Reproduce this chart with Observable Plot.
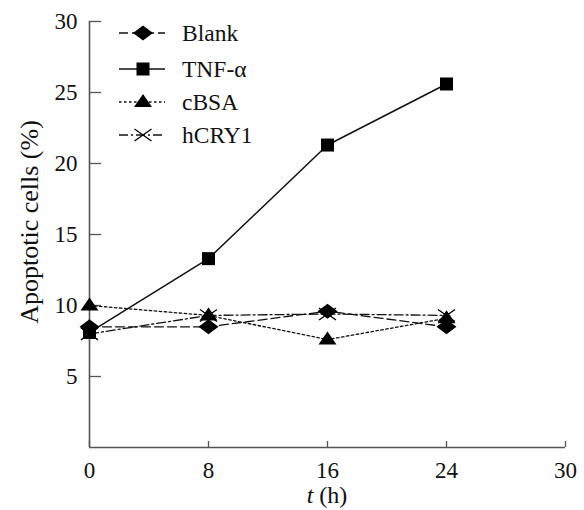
<!DOCTYPE html>
<html>
<head>
<meta charset="utf-8">
<script src="https://cdn.jsdelivr.net/npm/d3@7"></script>
<script src="https://cdn.jsdelivr.net/npm/@observablehq/plot@0.6"></script>
<style>
  html, body { margin: 0; padding: 0; background: #fefefe; }
  #chart { width: 584px; height: 510px; }
  svg { font-family: "Liberation Serif", "DejaVu Serif", serif; }
</style>
</head>
<body>
<div id="chart"></div>
<script>
// ---- data ----
const xTickLabels = ["0", "8", "16", "24", "30"];
const times = ["0", "8", "16", "24"];
const seriesNames = ["Blank", "TNF-\u03b1", "cBSA", "hCRY1"];
const blank = [8.5, 8.5, 9.6, 8.5];
const tnf = [8.1, 13.3, 21.3, 25.6];
const cbsa = [10.0, 9.3, 7.6, 9.1];
const hcry1 = [8.0, 9.3, 9.4, 9.3];
const yTicks = [5, 10, 15, 20, 25, 30];

// ---- styles ----
const symDiamond = {draw(c) { c.moveTo(-10, 0); c.lineTo(0, -7.5); c.lineTo(10, 0); c.lineTo(0, 7.5); c.closePath(); }};
const symSquare = {draw(c) { c.moveTo(-6.5, -6.5); c.lineTo(6.5, -6.5); c.lineTo(6.5, 6.5); c.lineTo(-6.5, 6.5); c.closePath(); }};
const symTriangle = {draw(c) { c.moveTo(0, -8); c.lineTo(9, 5); c.lineTo(-9, 5); c.closePath(); }};
const symTimes = {draw(c) { c.moveTo(-8.5, -6); c.lineTo(8.5, 6); c.moveTo(-8.5, 6); c.lineTo(8.5, -6); }};

const styles = [
  {dash: "9,4", symbol: symDiamond, filled: true, width: 1.3},
  {dash: null, symbol: symSquare, filled: true, width: 1.5},
  {dash: "2.5,2.5", symbol: symTriangle, filled: true, width: 1.3},
  {dash: "9,3,2,3", symbol: symTimes, filled: false, width: 1.3}
];

const valuesBySeries = [blank, tnf, cbsa, hcry1];
const rows = [];
seriesNames.forEach((s, i) => times.forEach((t, j) => rows.push({series: s, idx: i, t, v: valuesBySeries[i][j]})));

const marks = [
  Plot.ruleX([xTickLabels[0]], {stroke: "#555", strokeWidth: 1.6}),
  Plot.ruleY([0], {stroke: "#555", strokeWidth: 1.6}),
  Plot.axisX({ticks: xTickLabels, tickSize: -6, tickPadding: 20, fontSize: 23, stroke: "#555", strokeWidth: 1.3, label: null}),
  Plot.axisY({ticks: yTicks, tickSize: -12, tickPadding: 24, fontSize: 23, stroke: "#555", strokeWidth: 1.3, label: null})
];
seriesNames.forEach((s, i) => {
  const st = styles[i];
  const d = rows.filter(r => r.idx === i);
  marks.push(Plot.line(d, {x: "t", y: "v", stroke: "#111", strokeWidth: st.width, strokeDasharray: st.dash || undefined}));
});
seriesNames.forEach((s, i) => {
  const st = styles[i];
  const d = rows.filter(r => r.idx === i);
  marks.push(Plot.dot(d, {x: "t", y: "v", symbol: () => st.symbol, r: 6,
    fill: st.filled ? "#000" : "none", stroke: st.filled ? "none" : "#000", strokeWidth: 1.3}));
});

const plot = Plot.plot({
  width: 584,
  height: 510,
  marginLeft: 89,
  marginRight: 19,
  marginTop: 21,
  marginBottom: 63,
  style: {fontFamily: "'Liberation Serif', serif", fontSize: "22px", color: "#111", background: "#fefefe"},
  x: {type: "point", domain: xTickLabels, padding: 0},
  y: {domain: [0, 30]},
  symbol: {type: "identity"},
  marks
});

const svg = d3.select(plot);
// legend
const lg = svg.append("g").attr("text-anchor", "start");
seriesNames.forEach((s, i) => {
  const st = styles[i];
  const y = [33, 69, 102, 135][i];
  lg.append("line").attr("x1", 119).attr("x2", 165).attr("y1", y).attr("y2", y)
    .attr("stroke", "#111").attr("stroke-width", st.width)
    .attr("stroke-dasharray", st.dash || null);
  const p = d3.path(); st.symbol.draw(p);
  lg.append("path").attr("d", p.toString()).attr("transform", `translate(143,${y})`)
    .attr("fill", st.filled ? "#000" : "none").attr("stroke", st.filled ? "none" : "#000").attr("stroke-width", 1.3);
  lg.append("text").attr("x", 182).attr("y", y).attr("dy", "0.35em").attr("font-size", 23.5).attr("fill", "#111").text(s);
});
// axis titles
const xt = svg.append("text").attr("x", 327).attr("y", 503).attr("text-anchor", "middle").attr("font-size", 24).attr("fill", "#111");
xt.append("tspan").attr("font-style", "italic").text("t");
xt.append("tspan").text(" (h)");
svg.append("text").attr("transform", "translate(38,222) rotate(-90)").attr("text-anchor", "middle")
  .attr("font-size", 26).attr("fill", "#111").text("Apoptotic cells (%)");

document.getElementById("chart").appendChild(plot);
</script>
</body>
</html>
